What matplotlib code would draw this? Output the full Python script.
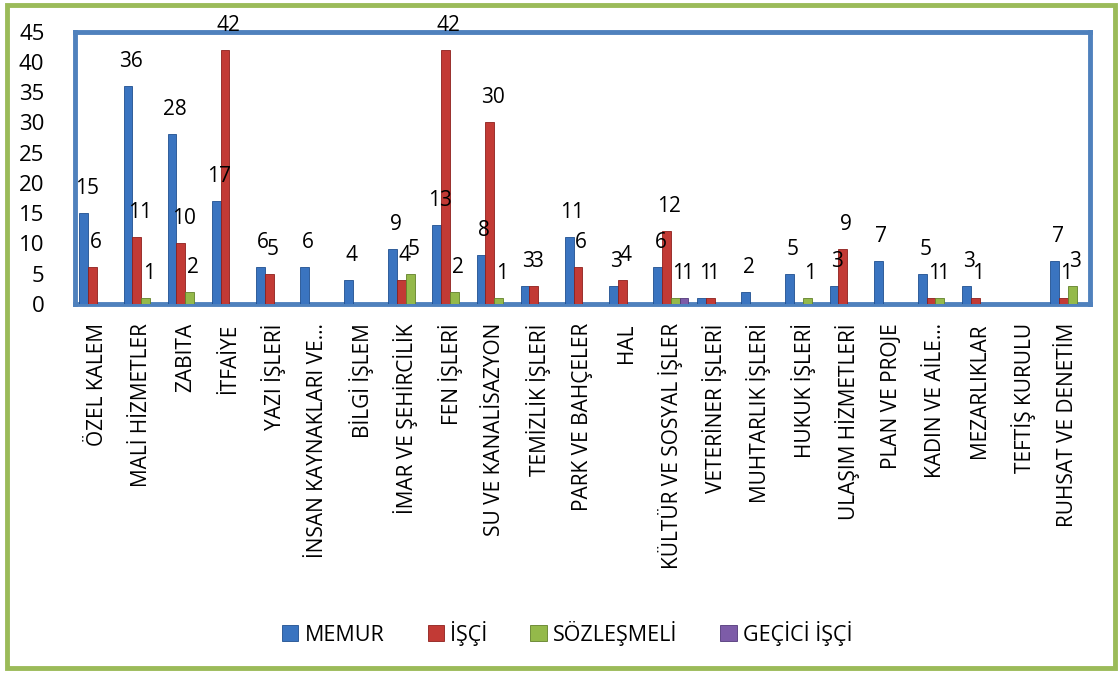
import matplotlib

matplotlib.use("Agg")
import matplotlib.pyplot as plt
import numpy as np
from matplotlib.patches import Rectangle

categories = [
    "ÖZEL KALEM", "MALİ HİZMETLER", "ZABITA", "İTFAİYE", "YAZI İŞLERİ",
    "İNSAN KAYNAKLARI VE...", "BİLGİ İŞLEM", "İMAR VE ŞEHİRCİLİK", "FEN İŞLERİ",
    "SU VE KANALİSAZYON", "TEMİZLİK İŞLERİ", "PARK VE BAHÇELER", "HAL",
    "KÜLTÜR VE SOSYAL İŞLER", "VETERİNER İŞLERİ", "MUHTARLIK İŞLERİ",
    "HUKUK İŞLERİ", "ULAŞIM HİZMETLERİ", "PLAN VE PROJE", "KADIN VE AİLE...",
    "MEZARLIKLAR", "TEFTİŞ KURULU", "RUHSAT VE DENETİM",
]
memur = [15, 36, 28, 17, 6, 6, 4, 9, 13, 8, 3, 11, 3, 6, 1, 2, 5, 3, 7, 5, 3, 0, 7]
isci = [6, 11, 10, 42, 5, 0, 0, 4, 42, 30, 3, 6, 4, 12, 1, 0, 0, 9, 0, 1, 1, 0, 1]
sozlesmeli = [0, 1, 2, 0, 0, 0, 0, 5, 2, 1, 0, 0, 0, 1, 0, 0, 1, 0, 0, 1, 0, 0, 3]
gecici_isci = [0, 0, 0, 0, 0, 0, 0, 0, 0, 0, 0, 0, 0, 1, 0, 0, 0, 0, 0, 0, 0, 0, 0]
series_names = ["MEMUR", "İŞÇİ", "SÖZLEŞMELİ", "GEÇİCİ İŞÇİ"]

plt.rcParams["font.family"] = ["Open Sans", "DejaVu Sans"]

colors = ["#3a74c0", "#c23a35", "#94b94a", "#7d5ca8"]
edges = ["#1f4f8f", "#8e1f1c", "#62812a", "#52387a"]

fig = plt.figure(figsize=(11.19, 6.75), dpi=100)
ax = fig.add_axes([0.067, 0.55, 0.907, 0.403])

# outer green frame
fig.patches.append(Rectangle((0.006, 0.01), 0.99, 0.983, transform=fig.transFigure,
                             fill=False, edgecolor="#9bbb59", linewidth=3.5))

x = np.arange(len(categories))
w = 0.2
all_series = [memur, isci, sozlesmeli, gecici_isci]
for k, (vals, name) in enumerate(zip(all_series, series_names)):
    vals = np.array(vals, dtype=float)
    pos = x + (k - 1.5) * w
    mask = vals > 0
    ax.bar(pos[mask], vals[mask], width=w, color=colors[k], edgecolor=edges[k],
           linewidth=0.6, label=name, zorder=3)
    for xi, v in zip(pos[mask], vals[mask]):
        ax.annotate(f"{int(v)}", (xi, v), xytext=(3, 14), textcoords="offset pixels",
                    ha="center", va="bottom", fontsize=15, zorder=4)

ax.set_xlim(-0.5, len(categories) - 0.5)
ax.set_ylim(0, 45)
ax.set_yticks(range(0, 46, 5))
ax.set_xticks(x)
ax.set_xticklabels(categories, rotation=90, fontsize=15)
ax.tick_params(axis="both", length=0)
ax.tick_params(axis="y", labelsize=16, pad=22)
ax.tick_params(axis="x", pad=14)
for s in ax.spines.values():
    s.set_color("#4f81bd")
    s.set_linewidth(3.5)

leg = fig.legend(loc="center", bbox_to_anchor=(0.507, 0.062), ncol=4, frameon=False,
                 fontsize=15.5, handlelength=0.75, handleheight=0.75, columnspacing=2.0,
                 handletextpad=0.3)

fig.savefig("out.png", dpi=100)
